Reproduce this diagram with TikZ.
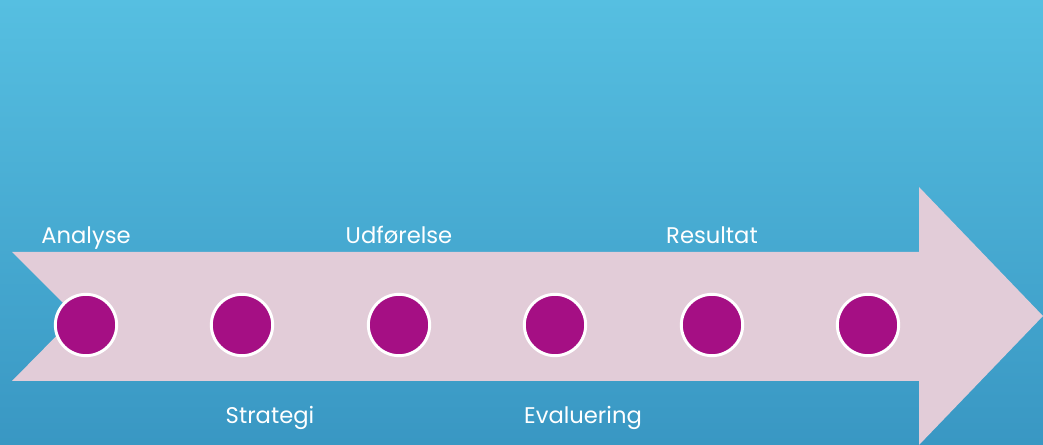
\documentclass[tikz,border=0pt]{standalone}
\usepackage{fontspec}
\setmainfont{Poppins}
\usetikzlibrary{positioning}

\definecolor{skytop}{HTML}{56BFE1}
\definecolor{skybottom}{HTML}{3997C3}
\definecolor{arrowpink}{HTML}{E2CCD8}
\definecolor{dotpurple}{HTML}{A50F84}

\tikzset{
  dot/.style={circle,fill=dotpurple,draw=white,line width=2.2pt,minimum size=46pt,inner sep=0pt},
  phase/.style={anchor=base,text=white,font=\fontsize{17}{20}\selectfont,inner sep=0pt}
}

\begin{document}
\begin{tikzpicture}[x=0.75pt,y=-0.75pt]
      % background
      \shade[top color=skytop,bottom color=skybottom] (0,0) rectangle (1043,445);
      \useasboundingbox (0,0) rectangle (1043,445);
      % big arrow
      \fill[arrowpink] (12,252) -- (919,252) -- (919,187) -- (1043,316)
        -- (919,445) -- (919,381) -- (12,381) -- (76,316) -- cycle;
      % dots on the arrow
      \foreach \i/\x in {1/86,2/242,3/399,4/555,5/712,6/868}
        \node[dot] (d\i) at (\x,325) {};
      % labels
      \node[phase] (analyse) at (86,244) {Analyse};
      \node[phase] (udforelse) at (399,244) {Udførelse};
      \node[phase] (resultat) at (712,244) {Resultat};
      \node[phase] (strategi) at (270,423) {Strategi};
      \node[phase] (evaluering) at (583,423) {Evaluering};
\end{tikzpicture}
\end{document}
